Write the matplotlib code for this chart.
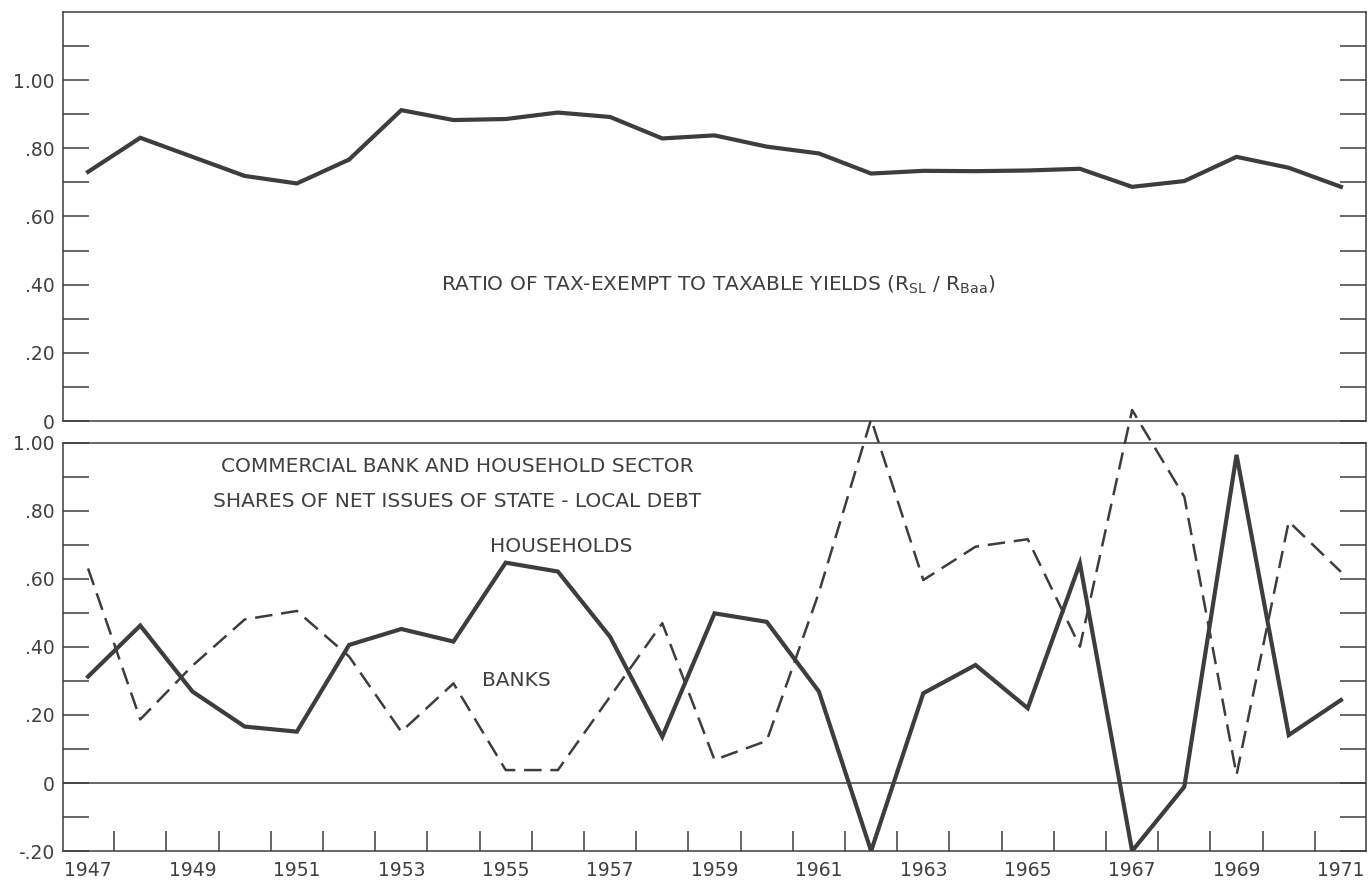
import numpy as np
import matplotlib
matplotlib.use("Agg")
import matplotlib.pyplot as plt
from matplotlib.ticker import FixedLocator

years = list(range(1947, 1972))

ratio = [0.731, 0.831, 0.775, 0.719, 0.697, 0.767, 0.912, 0.883, 0.886, 0.905,
         0.892, 0.829, 0.838, 0.805, 0.785, 0.726, 0.734, 0.733, 0.735, 0.740,
         0.687, 0.704, 0.775, 0.743, 0.687]

households = [0.313, 0.463, 0.269, 0.166, 0.151, 0.406, 0.453, 0.416, 0.648, 0.622,
              0.430, 0.136, 0.499, 0.474, 0.269, -0.20, 0.264, 0.347, 0.220, 0.646,
              -0.20, -0.011, 0.965, 0.141, 0.244]

banks = [0.631, 0.187, 0.345, 0.481, 0.506, 0.372, 0.151, 0.293, 0.038, 0.038,
         0.254, 0.470, 0.068, 0.124, 0.560, 1.070, 0.597, 0.695, 0.717, 0.401,
         1.097, 0.842, 0.024, 0.769, 0.621]

top_yticks = [0.0, 0.2, 0.4, 0.6, 0.8, 1.0]
top_ylabels = ["0", ".20", ".40", ".60", ".80", "1.00"]
bot_yticks = [-0.2, 0.0, 0.2, 0.4, 0.6, 0.8, 1.0]
bot_ylabels = ["-.20", "0", ".20", ".40", ".60", ".80", "1.00"]
x_label_years = list(range(1947, 1972, 2))
x_labels = [str(y) for y in x_label_years]

title_top = r"RATIO OF TAX-EXEMPT TO TAXABLE YIELDS (R$_{\mathregular{SL}}$ / R$_{\mathregular{Baa}}$)"
title_bot1 = "COMMERCIAL BANK AND HOUSEHOLD SECTOR"
title_bot2 = "SHARES OF NET ISSUES OF STATE - LOCAL DEBT"
lab_house = "HOUSEHOLDS"
lab_banks = "BANKS"

ink = "#3d3d3d"
txt = "#404040"
plt.rcParams["font.family"] = ["DejaVu Sans"]
plt.rcParams["mathtext.fontset"] = "dejavusans"

W, H = 1368, 880
fig = plt.figure(figsize=(W / 100, H / 100), dpi=100)
fig.patch.set_facecolor("white")

left = 63 / W
width = (1366 - 63) / W
ax1 = fig.add_axes([left, 1 - 421 / H, width, (421 - 12) / H])
ax2 = fig.add_axes([left, 1 - 851 / H, width, (851 - 443) / H])

xlim = (1946.52, 1971.48)
fs = 13.5

def style(ax):
    for s in ax.spines.values():
        s.set_color(ink)
        s.set_linewidth(1.1)
    ax.set_xlim(*xlim)

# ---- top panel
style(ax1)
ax1.set_ylim(0, 1.2)
ax1.plot(years, ratio, color=ink, lw=3.0, solid_joinstyle="miter")
ax1.set_yticks(top_yticks)
ax1.set_yticklabels(top_ylabels)
ax1.yaxis.set_minor_locator(FixedLocator(np.arange(0.1, 1.15, 0.1)))
ax1.tick_params(axis="y", which="both", direction="in", length=19, width=1.1,
                color=ink, left=True, right=True, labelleft=True, labelright=False,
                labelsize=fs, labelcolor=txt, pad=6)
ax1.tick_params(axis="x", which="both", bottom=False, top=False,
                labelbottom=False)
ax1.text(718 / W, 1 - 285 / H, title_top, transform=fig.transFigure,
         ha="center", va="center", fontsize=14.5, color=txt)

# ---- bottom panel
style(ax2)
ax2.set_ylim(-0.2, 1.0)
ax2.axhline(0, color=ink, lw=1.1)
ax2.plot(years, households, color=ink, lw=3.0, solid_joinstyle="miter")
ax2.plot(years, banks, color=ink, lw=1.8, dashes=(7, 3.5), clip_on=False)
ax2.set_yticks(bot_yticks)
ax2.set_yticklabels(bot_ylabels)
ax2.yaxis.set_minor_locator(FixedLocator(np.arange(-0.1, 0.95, 0.1)))
ax2.tick_params(axis="y", which="both", direction="in", length=19, width=1.1,
                color=ink, left=True, right=True, labelleft=True, labelright=False,
                labelsize=fs, labelcolor=txt, pad=6)
ax2.set_xticks(x_label_years)
ax2.set_xticklabels(x_labels)
ax2.xaxis.set_minor_locator(FixedLocator(np.arange(1947.5, 1971, 1.0)))
ax2.tick_params(axis="x", which="major", length=0, labelsize=fs,
                labelcolor=txt, pad=7)
ax2.tick_params(axis="x", which="minor", direction="in", length=14.5,
                width=1.1, color=ink)

ax2.text(457 / W, 1 - 467 / H, title_bot1, transform=fig.transFigure,
         ha="center", va="center", fontsize=14.5, color=txt)
ax2.text(457 / W, 1 - 501 / H, title_bot2, transform=fig.transFigure,
         ha="center", va="center", fontsize=14.5, color=txt)
ax2.text(561 / W, 1 - 546 / H, lab_house, transform=fig.transFigure,
         ha="center", va="center", fontsize=14.5, color=txt)
ax2.text(516 / W, 1 - 680 / H, lab_banks, transform=fig.transFigure,
         ha="center", va="center", fontsize=14.5, color=txt)

fig.savefig("out.png", dpi=100, facecolor="white")
